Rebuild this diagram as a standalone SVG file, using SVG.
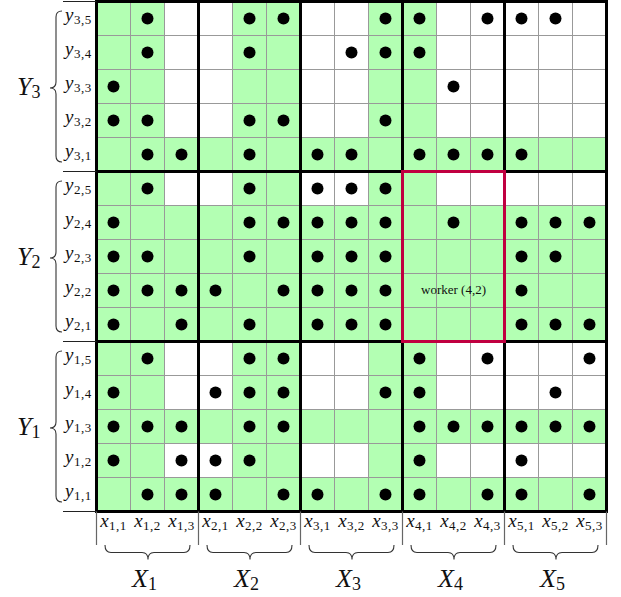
<svg xmlns="http://www.w3.org/2000/svg" width="621" height="597" viewBox="0 0 621 597">
<style>
.bg{fill:#ffffff}
.g{fill:#b3ffb3}
.thin{stroke:#999999;stroke-width:1;fill:none}
.thick{stroke:#000000;stroke-width:3;fill:none;stroke-linecap:square}
.tick{stroke:#222222;stroke-width:1;fill:none}
.btick{stroke:#666666;stroke-width:1.2;fill:none}
.brace{stroke:#333333;stroke-width:1.1;fill:none}
.d{fill:#000000}
.worker{fill:none;stroke:#c00040;stroke-width:3}
.txt{font-family:'Liberation Serif','DejaVu Serif','Times New Roman',serif;fill:#111111}
.m{font-size:19px;font-style:italic}
.s{font-size:13px;font-style:normal;letter-spacing:0.5px}
.M{font-size:26px;font-style:italic}
.S{font-size:18px;font-style:normal}
.wl{font-size:13px}
</style>
<rect width="621" height="597" fill="#ffffff"/>

<g id="grid">
  <rect class="bg" x="96.5" y="1.5" width="510" height="510"/>
  <rect class="g" x="96.5" y="1.5" width="68" height="510"/>
  <rect class="g" x="232.5" y="1.5" width="68" height="510"/>
  <rect class="g" x="368.5" y="1.5" width="68" height="510"/>
  <rect class="g" x="96.5" y="137.5" width="510" height="34"/>
  <rect class="g" x="96.5" y="205.5" width="510" height="136"/>
  <rect class="g" x="96.5" y="409.5" width="510" height="34"/>
  <rect class="g" x="96.5" y="477.5" width="510" height="34"/>
  <path class="thin" d="M130.5 1.5V511.5M164.5 1.5V511.5M232.5 1.5V511.5M266.5 1.5V511.5M334.5 1.5V511.5M368.5 1.5V511.5M436.5 1.5V511.5M470.5 1.5V511.5M538.5 1.5V511.5M572.5 1.5V511.5"/>
  <path class="thin" d="M96.5 35.5H606.5M96.5 69.5H606.5M96.5 103.5H606.5M96.5 137.5H606.5M96.5 205.5H606.5M96.5 239.5H606.5M96.5 273.5H606.5M96.5 307.5H606.5M96.5 375.5H606.5M96.5 409.5H606.5M96.5 443.5H606.5M96.5 477.5H606.5"/>
</g>

<g id="dots">
  <circle class="d" cx="147.5" cy="18.5" r="6"/><circle class="d" cx="249.5" cy="18.5" r="6"/><circle class="d" cx="283.5" cy="18.5" r="6"/><circle class="d" cx="385.5" cy="18.5" r="6"/><circle class="d" cx="419.5" cy="18.5" r="6"/><circle class="d" cx="487.5" cy="18.5" r="6"/><circle class="d" cx="521.5" cy="18.5" r="6"/><circle class="d" cx="555.5" cy="18.5" r="6"/>
  <circle class="d" cx="147.5" cy="52.5" r="6"/><circle class="d" cx="249.5" cy="52.5" r="6"/><circle class="d" cx="351.5" cy="52.5" r="6"/><circle class="d" cx="385.5" cy="52.5" r="6"/><circle class="d" cx="419.5" cy="52.5" r="6"/>
  <circle class="d" cx="113.5" cy="86.5" r="6"/><circle class="d" cx="453.5" cy="86.5" r="6"/>
  <circle class="d" cx="113.5" cy="120.5" r="6"/><circle class="d" cx="147.5" cy="120.5" r="6"/><circle class="d" cx="249.5" cy="120.5" r="6"/><circle class="d" cx="283.5" cy="120.5" r="6"/><circle class="d" cx="385.5" cy="120.5" r="6"/>
  <circle class="d" cx="147.5" cy="154.5" r="6"/><circle class="d" cx="181.5" cy="154.5" r="6"/><circle class="d" cx="249.5" cy="154.5" r="6"/><circle class="d" cx="317.5" cy="154.5" r="6"/><circle class="d" cx="351.5" cy="154.5" r="6"/><circle class="d" cx="419.5" cy="154.5" r="6"/><circle class="d" cx="453.5" cy="154.5" r="6"/><circle class="d" cx="487.5" cy="154.5" r="6"/><circle class="d" cx="521.5" cy="154.5" r="6"/>
  <circle class="d" cx="147.5" cy="188.5" r="6"/><circle class="d" cx="249.5" cy="188.5" r="6"/><circle class="d" cx="317.5" cy="188.5" r="6"/><circle class="d" cx="351.5" cy="188.5" r="6"/><circle class="d" cx="385.5" cy="188.5" r="6"/>
  <circle class="d" cx="113.5" cy="222.5" r="6"/><circle class="d" cx="249.5" cy="222.5" r="6"/><circle class="d" cx="283.5" cy="222.5" r="6"/><circle class="d" cx="317.5" cy="222.5" r="6"/><circle class="d" cx="351.5" cy="222.5" r="6"/><circle class="d" cx="385.5" cy="222.5" r="6"/><circle class="d" cx="453.5" cy="222.5" r="6"/><circle class="d" cx="521.5" cy="222.5" r="6"/><circle class="d" cx="555.5" cy="222.5" r="6"/><circle class="d" cx="589.5" cy="222.5" r="6"/>
  <circle class="d" cx="113.5" cy="256.5" r="6"/><circle class="d" cx="147.5" cy="256.5" r="6"/><circle class="d" cx="249.5" cy="256.5" r="6"/><circle class="d" cx="317.5" cy="256.5" r="6"/><circle class="d" cx="351.5" cy="256.5" r="6"/><circle class="d" cx="385.5" cy="256.5" r="6"/><circle class="d" cx="521.5" cy="256.5" r="6"/><circle class="d" cx="555.5" cy="256.5" r="6"/>
  <circle class="d" cx="113.5" cy="290.5" r="6"/><circle class="d" cx="147.5" cy="290.5" r="6"/><circle class="d" cx="181.5" cy="290.5" r="6"/><circle class="d" cx="215.5" cy="290.5" r="6"/><circle class="d" cx="283.5" cy="290.5" r="6"/><circle class="d" cx="317.5" cy="290.5" r="6"/><circle class="d" cx="351.5" cy="290.5" r="6"/><circle class="d" cx="385.5" cy="290.5" r="6"/><circle class="d" cx="521.5" cy="290.5" r="6"/>
  <circle class="d" cx="113.5" cy="324.5" r="6"/><circle class="d" cx="181.5" cy="324.5" r="6"/><circle class="d" cx="249.5" cy="324.5" r="6"/><circle class="d" cx="317.5" cy="324.5" r="6"/><circle class="d" cx="351.5" cy="324.5" r="6"/><circle class="d" cx="385.5" cy="324.5" r="6"/><circle class="d" cx="521.5" cy="324.5" r="6"/><circle class="d" cx="555.5" cy="324.5" r="6"/><circle class="d" cx="589.5" cy="324.5" r="6"/>
  <circle class="d" cx="147.5" cy="358.5" r="6"/><circle class="d" cx="249.5" cy="358.5" r="6"/><circle class="d" cx="283.5" cy="358.5" r="6"/><circle class="d" cx="419.5" cy="358.5" r="6"/><circle class="d" cx="487.5" cy="358.5" r="6"/><circle class="d" cx="589.5" cy="358.5" r="6"/>
  <circle class="d" cx="113.5" cy="392.5" r="6"/><circle class="d" cx="215.5" cy="392.5" r="6"/><circle class="d" cx="249.5" cy="392.5" r="6"/><circle class="d" cx="283.5" cy="392.5" r="6"/><circle class="d" cx="385.5" cy="392.5" r="6"/><circle class="d" cx="419.5" cy="392.5" r="6"/><circle class="d" cx="555.5" cy="392.5" r="6"/>
  <circle class="d" cx="113.5" cy="426.5" r="6"/><circle class="d" cx="147.5" cy="426.5" r="6"/><circle class="d" cx="181.5" cy="426.5" r="6"/><circle class="d" cx="249.5" cy="426.5" r="6"/><circle class="d" cx="283.5" cy="426.5" r="6"/><circle class="d" cx="419.5" cy="426.5" r="6"/><circle class="d" cx="453.5" cy="426.5" r="6"/><circle class="d" cx="487.5" cy="426.5" r="6"/><circle class="d" cx="521.5" cy="426.5" r="6"/><circle class="d" cx="555.5" cy="426.5" r="6"/><circle class="d" cx="589.5" cy="426.5" r="6"/>
  <circle class="d" cx="113.5" cy="460.5" r="6"/><circle class="d" cx="181.5" cy="460.5" r="6"/><circle class="d" cx="215.5" cy="460.5" r="6"/><circle class="d" cx="249.5" cy="460.5" r="6"/><circle class="d" cx="419.5" cy="460.5" r="6"/><circle class="d" cx="521.5" cy="460.5" r="6"/>
  <circle class="d" cx="147.5" cy="494.5" r="6"/><circle class="d" cx="181.5" cy="494.5" r="6"/><circle class="d" cx="215.5" cy="494.5" r="6"/><circle class="d" cx="283.5" cy="494.5" r="6"/><circle class="d" cx="317.5" cy="494.5" r="6"/><circle class="d" cx="385.5" cy="494.5" r="6"/><circle class="d" cx="419.5" cy="494.5" r="6"/><circle class="d" cx="487.5" cy="494.5" r="6"/><circle class="d" cx="521.5" cy="494.5" r="6"/><circle class="d" cx="589.5" cy="494.5" r="6"/>
</g>

<g id="blocks">
  <path class="thick" d="M96.5 1.5V511.5M198.5 1.5V511.5M300.5 1.5V511.5M402.5 1.5V511.5M504.5 1.5V511.5M606.5 1.5V511.5"/>
  <path class="thick" d="M96.5 1.5H606.5M96.5 171.5H606.5M96.5 341.5H606.5M96.5 511.5H606.5"/>
</g>

<g id="worker-4-2">
  <rect class="worker" x="402.5" y="171.5" width="102" height="170"/>
  <text class="txt wl" font-family="'Liberation Serif', 'DejaVu Serif', serif" x="453.5" y="293.5" text-anchor="middle">worker (4,2)</text>
</g>

<g id="ticks">
  <path class="tick" d="M63 1.5H96.5M63 171.5H96.5M63 341.5H96.5M63 511.5H96.5"/>
  <path class="btick" d="M96.5 511.5V545M198.5 511.5V545M300.5 511.5V545M402.5 511.5V545M504.5 511.5V545M606.5 511.5V545"/>
</g>

<g id="y-labels" font-family="'Liberation Serif', 'DejaVu Serif', serif">
  <text class="txt m" x="65" y="20.5">y<tspan class="s" dx="0.5" dy="3.5">3,5</tspan></text>
  <text class="txt m" x="65" y="54.5">y<tspan class="s" dx="0.5" dy="3.5">3,4</tspan></text>
  <text class="txt m" x="65" y="88.5">y<tspan class="s" dx="0.5" dy="3.5">3,3</tspan></text>
  <text class="txt m" x="65" y="122.5">y<tspan class="s" dx="0.5" dy="3.5">3,2</tspan></text>
  <text class="txt m" x="65" y="156.5">y<tspan class="s" dx="0.5" dy="3.5">3,1</tspan></text>
  <text class="txt m" x="65" y="190.5">y<tspan class="s" dx="0.5" dy="3.5">2,5</tspan></text>
  <text class="txt m" x="65" y="224.5">y<tspan class="s" dx="0.5" dy="3.5">2,4</tspan></text>
  <text class="txt m" x="65" y="258.5">y<tspan class="s" dx="0.5" dy="3.5">2,3</tspan></text>
  <text class="txt m" x="65" y="292.5">y<tspan class="s" dx="0.5" dy="3.5">2,2</tspan></text>
  <text class="txt m" x="65" y="326.5">y<tspan class="s" dx="0.5" dy="3.5">2,1</tspan></text>
  <text class="txt m" x="65" y="360.5">y<tspan class="s" dx="0.5" dy="3.5">1,5</tspan></text>
  <text class="txt m" x="65" y="394.5">y<tspan class="s" dx="0.5" dy="3.5">1,4</tspan></text>
  <text class="txt m" x="65" y="428.5">y<tspan class="s" dx="0.5" dy="3.5">1,3</tspan></text>
  <text class="txt m" x="65" y="462.5">y<tspan class="s" dx="0.5" dy="3.5">1,2</tspan></text>
  <text class="txt m" x="65" y="496.5">y<tspan class="s" dx="0.5" dy="3.5">1,1</tspan></text>
</g>

<g id="x-labels" font-family="'Liberation Serif', 'DejaVu Serif', serif">
  <text class="txt m" x="113.5" y="527" text-anchor="middle">x<tspan class="s" dx="0.5" dy="3">1,1</tspan></text>
  <text class="txt m" x="147.5" y="527" text-anchor="middle">x<tspan class="s" dx="0.5" dy="3">1,2</tspan></text>
  <text class="txt m" x="181.5" y="527" text-anchor="middle">x<tspan class="s" dx="0.5" dy="3">1,3</tspan></text>
  <text class="txt m" x="215.5" y="527" text-anchor="middle">x<tspan class="s" dx="0.5" dy="3">2,1</tspan></text>
  <text class="txt m" x="249.5" y="527" text-anchor="middle">x<tspan class="s" dx="0.5" dy="3">2,2</tspan></text>
  <text class="txt m" x="283.5" y="527" text-anchor="middle">x<tspan class="s" dx="0.5" dy="3">2,3</tspan></text>
  <text class="txt m" x="317.5" y="527" text-anchor="middle">x<tspan class="s" dx="0.5" dy="3">3,1</tspan></text>
  <text class="txt m" x="351.5" y="527" text-anchor="middle">x<tspan class="s" dx="0.5" dy="3">3,2</tspan></text>
  <text class="txt m" x="385.5" y="527" text-anchor="middle">x<tspan class="s" dx="0.5" dy="3">3,3</tspan></text>
  <text class="txt m" x="419.5" y="527" text-anchor="middle">x<tspan class="s" dx="0.5" dy="3">4,1</tspan></text>
  <text class="txt m" x="453.5" y="527" text-anchor="middle">x<tspan class="s" dx="0.5" dy="3">4,2</tspan></text>
  <text class="txt m" x="487.5" y="527" text-anchor="middle">x<tspan class="s" dx="0.5" dy="3">4,3</tspan></text>
  <text class="txt m" x="521.5" y="527" text-anchor="middle">x<tspan class="s" dx="0.5" dy="3">5,1</tspan></text>
  <text class="txt m" x="555.5" y="527" text-anchor="middle">x<tspan class="s" dx="0.5" dy="3">5,2</tspan></text>
  <text class="txt m" x="589.5" y="527" text-anchor="middle">x<tspan class="s" dx="0.5" dy="3">5,3</tspan></text>
</g>

<g id="Y3" font-family="'Liberation Serif', 'DejaVu Serif', serif">
  <path class="brace" d="M62 11Q56 11 56 17V82Q56 88 50 88Q56 88 56 94V156Q56 162 62 162"/>
  <text class="txt M" x="17" y="95">Y<tspan class="S" dy="3">3</tspan></text>
</g>
<g id="Y2" font-family="'Liberation Serif', 'DejaVu Serif', serif">
  <path class="brace" d="M62 181Q56 181 56 187V252Q56 258 50 258Q56 258 56 264V326Q56 332 62 332"/>
  <text class="txt M" x="17" y="265">Y<tspan class="S" dy="3">2</tspan></text>
</g>
<g id="Y1" font-family="'Liberation Serif', 'DejaVu Serif', serif">
  <path class="brace" d="M62 351Q56 351 56 357V422Q56 428 50 428Q56 428 56 434V496Q56 502 62 502"/>
  <text class="txt M" x="17" y="435">Y<tspan class="S" dy="3">1</tspan></text>
</g>

<g id="X1" font-family="'Liberation Serif', 'DejaVu Serif', serif">
  <path class="brace" d="M105 545Q105 552.5 111 552.5H142Q148 552.5 148 559.5Q148 552.5 154 552.5H184Q190 552.5 190 545"/>
  <text class="txt M" x="132" y="587">X<tspan class="S" dy="3">1</tspan></text>
</g>
<g id="X2" font-family="'Liberation Serif', 'DejaVu Serif', serif">
  <path class="brace" d="M207 545Q207 552.5 213 552.5H244Q250 552.5 250 559.5Q250 552.5 256 552.5H286Q292 552.5 292 545"/>
  <text class="txt M" x="234" y="587">X<tspan class="S" dy="3">2</tspan></text>
</g>
<g id="X3" font-family="'Liberation Serif', 'DejaVu Serif', serif">
  <path class="brace" d="M309 545Q309 552.5 315 552.5H346Q352 552.5 352 559.5Q352 552.5 358 552.5H388Q394 552.5 394 545"/>
  <text class="txt M" x="336" y="587">X<tspan class="S" dy="3">3</tspan></text>
</g>
<g id="X4" font-family="'Liberation Serif', 'DejaVu Serif', serif">
  <path class="brace" d="M411 545Q411 552.5 417 552.5H448Q454 552.5 454 559.5Q454 552.5 460 552.5H490Q496 552.5 496 545"/>
  <text class="txt M" x="438" y="587">X<tspan class="S" dy="3">4</tspan></text>
</g>
<g id="X5" font-family="'Liberation Serif', 'DejaVu Serif', serif">
  <path class="brace" d="M513 545Q513 552.5 519 552.5H550Q556 552.5 556 559.5Q556 552.5 562 552.5H592Q598 552.5 598 545"/>
  <text class="txt M" x="540" y="587">X<tspan class="S" dy="3">5</tspan></text>
</g>
</svg>
